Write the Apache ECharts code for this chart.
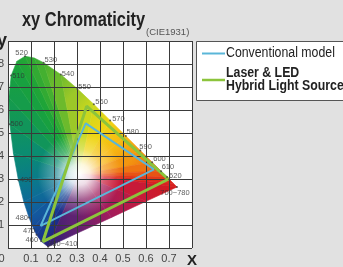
<!DOCTYPE html>
<html>
<head>
<meta charset="utf-8">
<script src="https://cdn.jsdelivr.net/npm/echarts@6/dist/echarts.min.js"></script>
<style>
    html, body {margin:0;padding:0;background:#e1e1e1;}
    #chart {width:343px;height:267px;}
</style>
</head>
<body>
<div id="chart"></div>
<script>
    // CIE1931 spectral locus (x, y)
    var wavelengths = ['380~410', '460', '470', '475', '480', '485', '490', '495', '500', '505', '510', '515', '520', '525', '530', '540', '550', '560', '570', '580', '590', '600', '610', '620', '630', '640', '700~780'];
    var locusX = [0.1741, 0.1440, 0.1241, 0.1096, 0.0913, 0.0687, 0.0454, 0.0235, 0.0082, 0.0039, 0.0139, 0.0389, 0.0743, 0.1142, 0.1547, 0.2296, 0.3016, 0.3731, 0.4441, 0.5125, 0.5752, 0.6270, 0.6658, 0.6915, 0.7079, 0.7190, 0.7347];
    var locusY = [0.0050, 0.0297, 0.0578, 0.0868, 0.1327, 0.2007, 0.2950, 0.4127, 0.5384, 0.6548, 0.7502, 0.8120, 0.8338, 0.8262, 0.8059, 0.7543, 0.6923, 0.6245, 0.5547, 0.4866, 0.4242, 0.3725, 0.3340, 0.3083, 0.2920, 0.2809, 0.2653];
    // line of purples, from red end back to violet end
    var purpleX = [0.60, 0.45, 0.30];
    var purpleY = [0.203, 0.133, 0.064];
    // white point
    var whiteX = 0.31, whiteY = 0.32;

    // wavelengths that carry a label
    var labeled = ['380~410', '460', '470', '480', '490', '500', '510', '520', '530', '540', '550', '560', '570', '580', '590', '600', '610', '620', '700~780'];

    // gamut triangles
    var conventionalX = [0.635, 0.338, 0.142];
    var conventionalY = [0.342, 0.542, 0.096];
    var hybridX = [0.697, 0.342, 0.152];
    var hybridY = [0.299, 0.617, 0.028];

    var xTickLabels = ['0', '0.1', '0.2', '0.3', '0.4', '0.5', '0.6', '0.7', 'X'];
    var yTickLabels = ['', '0.1', '0.2', '0.3', '0.4', '0.5', '0.6', '0.7', '0.8', 'y'];

    // colours for the fill, one per locus / purple point
    var locusColors = ['#2c1f74', '#1b2f88', '#183b90', '#164a98', '#13589e', '#0e6a98', '#0a7c88', '#0b8c70', '#11955a', '#159c4a', '#18a040', '#1ea438', '#26a636', '#32aa33', '#44b030', '#6cba2c', '#9cc828', '#cad81e', '#efd414', '#f7b812', '#f39610', '#ee7412', '#e85414', '#e23a18', '#dd2a1a', '#d92220', '#d41a1a'];
    var purpleColors = ['#c81a38', '#a21c5c', '#5e2272'];

    // label placement (style only)
    var labelPlace = {
        '380~410': ['left', 0, -3], '460': ['right', -3, -1], '470': ['right', -1, -4], '480': ['right', -1, 0],
        '490': ['left', 1.5, 0], '500': ['left', 0.5, 0], '510': ['left', 1, 0], '520': ['center', -3.5, -3],
        '530': ['left', 1, -3], '540': ['left', 1, -1], '550': ['left', 1, -2], '560': ['left', 1.5, -2],
        '570': ['left', 2, -1], '580': ['left', 0.5, -4], '590': ['left', -1, -3], '600': ['left', 1, -3],
        '610': ['left', 0.5, -4], '620': ['left', 2, -1.5], '700~780': ['center', -2, 5.5]
    };

    var sans = '"Liberation Sans", Arial, sans-serif';

    var myChart = echarts.init(document.getElementById('chart'), null, {renderer: 'canvas'});

    function renderFill(params, api) {
        var xs = locusX.concat(purpleX), ys = locusY.concat(purpleY);
        var cs = locusColors.concat(purpleColors);
        var w = api.coord([whiteX, whiteY]);
        var pts = [];
        for (var i = 0; i < xs.length; i++) pts.push(api.coord([xs[i], ys[i]]));
        var children = [];
        for (var i = 0; i < pts.length; i++) {
            var j = (i + 1) % pts.length;
            var grad = new echarts.graphic.LinearGradient(pts[i][0], pts[i][1], pts[j][0], pts[j][1], [
                {offset: 0, color: cs[i]}, {offset: 1, color: cs[j]}
            ], true);
            children.push({
                type: 'polygon',
                shape: {points: [w, pts[i], pts[j]]},
                style: {fill: grad, stroke: grad, lineWidth: 0.6}
            });
        }
        // white centre
        children.push({
            type: 'polygon',
            shape: {points: pts},
            style: {
                fill: new echarts.graphic.RadialGradient(w[0], w[1], 42, [
                    {offset: 0, color: 'rgba(255,255,255,1)'},
                    {offset: 0.25, color: 'rgba(255,255,255,0.85)'},
                    {offset: 0.6, color: 'rgba(255,255,255,0.3)'},
                    {offset: 1, color: 'rgba(255,255,255,0)'}
                ], true)
            }
        });
        return {type: 'group', children: children};
    }

    function closed(xs, ys) {
        var d = [];
        for (var i = 0; i < xs.length; i++) d.push([xs[i], ys[i]]);
        d.push([xs[0], ys[0]]);
        return d;
    }

    var labelData = labeled.map(function (name) {
        var i = wavelengths.indexOf(name);
        var p = labelPlace[name];
        return {
            value: [locusX[i], locusY[i]],
            name: name,
            label: {align: p[0], offset: [p[1], p[2]]}
        };
    });

    var option = {
        backgroundColor: '#e1e1e1',
        animation: false,
        grid: {left: 8, right: 151, top: 41, bottom: 19, outerBoundsMode: 'none', containLabel: false,
            show: true, backgroundColor: '#fff', borderWidth: 0, z: 0},
        xAxis: {
            type: 'value', min: 0, max: 0.8, interval: 0.1, z: 3,
            axisLine: {show: false}, axisTick: {show: false},
            splitLine: {show: true, lineStyle: {color: '#3a3a3a', width: 1}},
            axisLabel: {
                margin: 5, color: '#444', fontFamily: sans, fontSize: 11,
                formatter: function (v) {
                    var s = xTickLabels[Math.round(v * 10)];
                    if (s === 'X') return '{b|X}';
                    if (s === '0') return '{o|0}';
                    return s;
                },
                rich: {
                    b: {fontFamily: sans, fontWeight: 'bold', fontSize: 15, color: '#222'},
                    o: {fontFamily: sans, fontSize: 11, color: '#444', padding: [0, 13, 0, 0]}
                }
            }
        },
        yAxis: {
            type: 'value', min: 0, max: 0.9, interval: 0.1, z: 3,
            axisLine: {show: false}, axisTick: {show: false},
            splitLine: {show: true, lineStyle: {color: '#3a3a3a', width: 1}},
            axisLabel: {
                margin: 1, color: '#444', fontFamily: sans, fontSize: 11,
                formatter: function (v) {
                    var s = yTickLabels[Math.round(v * 10)];
                    if (s === 'y') return '{b|y}';
                    return s ? '{n|' + s + '}' : '';
                },
                rich: {
                    b: {fontFamily: sans, fontWeight: 'bold', fontSize: 18, color: '#222'},
                    n: {fontFamily: sans, fontSize: 11, color: '#444', padding: [0, 3, 0, 0]}
                }
            }
        },
        series: [
            {type: 'custom', z: 1, silent: true, data: [0], renderItem: renderFill},
            {
                type: 'line', name: 'Conventional model', z: 4, symbol: 'none',
                data: closed(conventionalX, conventionalY),
                lineStyle: {color: '#5ab6d8', width: 2}
            },
            {
                type: 'line', name: 'Laser & LED Hybrid Light Source', z: 4, symbol: 'none',
                data: closed(hybridX, hybridY),
                lineStyle: {color: '#8cc43c', width: 3}
            },
            {
                type: 'scatter', z: 5, symbolSize: 2, itemStyle: {color: '#444'},
                data: labelData,
                label: {
                    show: true, position: 'inside', verticalAlign: 'middle',
                    formatter: '{b}', fontFamily: sans, fontSize: 7.5, color: '#333'
                }
            }
        ],
        graphic: [
            {type: 'text', x: 22, y: 20, scaleX: 0.82, style: {x: 0, y: 0, text: 'xy Chromaticity', font: 'bold 20px ' + sans, fill: '#222', verticalAlign: 'middle'}},
            {type: 'text', x: 146, y: 32.5, style: {x: 0, y: 0, text: '(CIE1931)', font: '9.5px ' + sans, fill: '#555', verticalAlign: 'middle'}},
            {type: 'rect', shape: {x: 196.5, y: 41.5, width: 160, height: 59}, style: {fill: '#fff', stroke: '#555', lineWidth: 1}},
            {type: 'line', shape: {x1: 202, y1: 53.5, x2: 225, y2: 53.5}, style: {stroke: '#5ab6d8', lineWidth: 2}},
            {type: 'text', x: 226, y: 53.5, scaleX: 0.88, style: {x: 0, y: 0, text: 'Conventional model', font: '14px ' + sans, fill: '#222', verticalAlign: 'middle'}},
            {type: 'line', shape: {x1: 202, y1: 80, x2: 225, y2: 80}, style: {stroke: '#8cc43c', lineWidth: 2.5}},
            {type: 'text', x: 226, y: 73, scaleX: 0.88, style: {x: 0, y: 0, text: 'Laser & LED', font: 'bold 14px ' + sans, fill: '#222', verticalAlign: 'middle'}},
            {type: 'text', x: 226, y: 86.5, scaleX: 0.88, style: {x: 0, y: 0, text: 'Hybrid Light Source', font: 'bold 14px ' + sans, fill: '#222', verticalAlign: 'middle'}}
        ]
    };
    myChart.setOption(option);
</script>
</body>
</html>
